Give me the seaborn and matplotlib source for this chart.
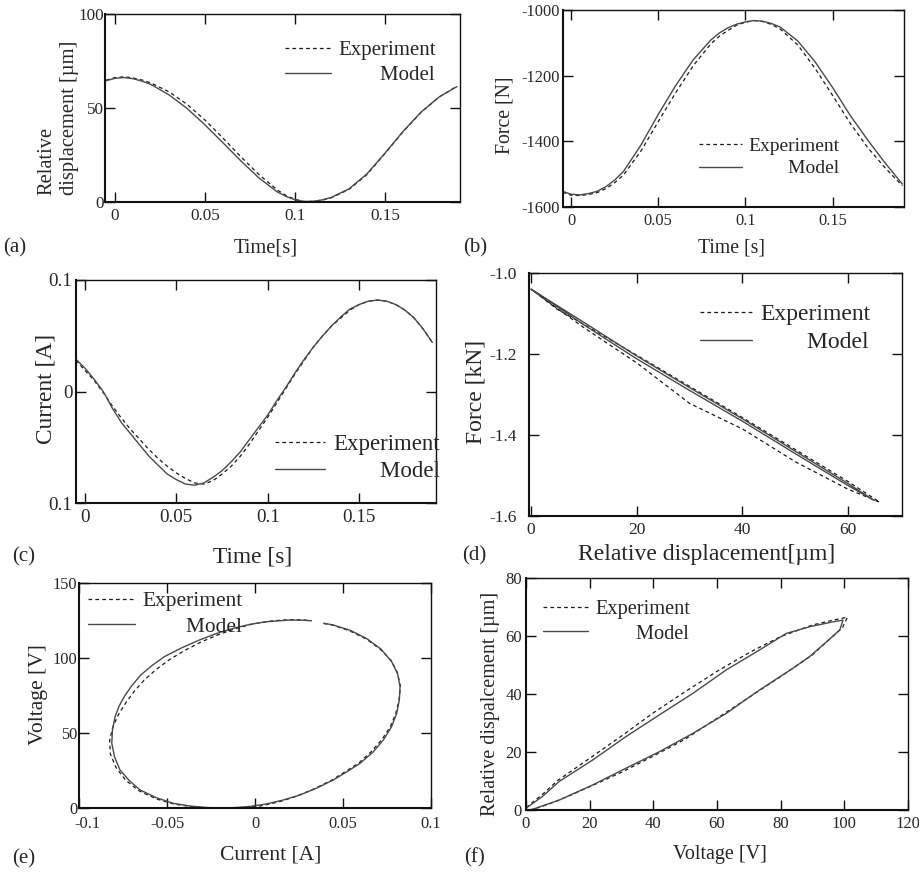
#%% Loading libraries
import seaborn as sns
import pandas as pd
import matplotlib.pyplot as plt
import matplotlib.transforms as mtrans

#%% Data
# (a) relative displacement vs time
a_time = [-0.005, 0.0, 0.005, 0.01, 0.015, 0.02, 0.03, 0.04, 0.05, 0.06, 0.07, 0.08, 0.09,
          0.095, 0.1, 0.105, 0.11, 0.115, 0.12, 0.13, 0.14, 0.15, 0.16, 0.17, 0.18, 0.19]
a_exp = [64.8, 66.2, 66.6, 66.0, 64.9, 63.3, 58.6, 52.0, 43.6, 34.0, 24.0, 14.6, 6.5,
         3.5, 1.4, 0.3, 0.3, 1.0, 2.2, 6.7, 14.6, 25.8, 37.3, 47.6, 55.8, 61.6]
a_model = [64.5, 65.8, 66.2, 65.6, 64.3, 62.5, 57.0, 49.8, 41.0, 31.5, 21.8, 12.8, 5.5,
           3.0, 1.2, 0.3, 0.4, 1.1, 2.4, 7.0, 15.0, 26.0, 37.5, 47.8, 55.8, 61.4]

# (b) force vs time
b_time = [-0.005, 0.0, 0.005, 0.01, 0.015, 0.02, 0.025, 0.03, 0.04, 0.05, 0.06, 0.07, 0.08, 0.085,
          0.09, 0.095, 0.1, 0.105, 0.11, 0.115, 0.12, 0.13, 0.14, 0.15, 0.16, 0.17, 0.18, 0.19]
b_exp = [-1555, -1564, -1565, -1562, -1556, -1544, -1526, -1503, -1430, -1340, -1252, -1170, -1104, -1080,
         -1062, -1046, -1037, -1032, -1035, -1044, -1058, -1106, -1178, -1260, -1344, -1418, -1480, -1535]
b_model = [-1552, -1561, -1563, -1559, -1552, -1538, -1518, -1492, -1412, -1318, -1230, -1152, -1092, -1070,
           -1054, -1043, -1036, -1032, -1034, -1041, -1052, -1094, -1158, -1236, -1320, -1395, -1465, -1530]

# (c) current vs time
c_time = [-0.005, 0.0, 0.005, 0.01, 0.015, 0.02, 0.025, 0.03, 0.035, 0.04, 0.045, 0.05, 0.055,
          0.06, 0.065, 0.07, 0.075, 0.08, 0.085, 0.09, 0.095, 0.1, 0.105, 0.11, 0.115, 0.12,
          0.125, 0.13, 0.135, 0.14, 0.145, 0.15, 0.155, 0.16, 0.165, 0.17, 0.175, 0.18, 0.185, 0.19]
c_exp = [0.028, 0.019, 0.010, -0.001, -0.013, -0.024, -0.034, -0.043, -0.052, -0.060, -0.067, -0.073, -0.078,
         -0.082, -0.083, -0.080, -0.074, -0.067, -0.058, -0.047, -0.035, -0.023, -0.010, 0.003, 0.016, 0.028,
         0.040, 0.050, 0.059, 0.066, 0.073, 0.078, 0.081, 0.082, 0.081, 0.078, 0.073, 0.066, 0.056, 0.044]
c_model = [0.029, 0.021, 0.011, 0.000, -0.015, -0.028, -0.038, -0.048, -0.058, -0.066, -0.074, -0.079, -0.083,
           -0.084, -0.082, -0.077, -0.071, -0.063, -0.054, -0.043, -0.032, -0.021, -0.008, 0.004, 0.017, 0.029,
           0.040, 0.050, 0.059, 0.067, 0.074, 0.078, 0.081, 0.082, 0.081, 0.078, 0.073, 0.066, 0.056, 0.044]

# (d) force vs relative displacement (loop: out and back)
d_exp_disp = [0, 5, 10, 20, 30, 40, 50, 60, 66, 60, 50, 40, 30, 20, 10, 5, 0]
d_exp_force = [-1.040, -1.088, -1.135, -1.222, -1.322, -1.385, -1.466, -1.534, -1.566,
               -1.515, -1.436, -1.357, -1.280, -1.203, -1.127, -1.090, -1.040]
d_model_disp = [0, 10, 20, 30, 40, 50, 60, 65, 60, 50, 40, 30, 20, 10, 0]
d_model_force = [-1.040, -1.122, -1.205, -1.283, -1.360, -1.440, -1.520, -1.562,
                 -1.525, -1.446, -1.366, -1.290, -1.212, -1.128, -1.040]

# (e) voltage vs current
e_exp_cur = [0.039, 0.0445, 0.054, 0.0634, 0.0715, 0.0776, 0.081, 0.0826, 0.0818, 0.08, 0.0768, 0.072,
             0.066, 0.059, 0.051, 0.0435, 0.034, 0.024, 0.014, 0.004, -0.006, -0.016, -0.026, -0.036,
             -0.046, -0.056, -0.066, -0.0735, -0.079, -0.0822, -0.0826, -0.0808, -0.0775, -0.0735,
             -0.0685, -0.0628, -0.056, -0.0485, -0.04, -0.031, -0.021, -0.011, -0.001, 0.01, 0.0199,
             0.027, 0.032]
e_exp_volt = [123.0, 121.8, 118.0, 112.5, 105.5, 98, 90, 81, 72, 63, 54, 45.5,
              37.5, 30, 24, 18.5, 13, 8, 4.2, 1.5, 0.2, 0.0, 0.0, 0.9,
              2.6, 6.0, 11.5, 18.5, 27, 36, 45, 54, 62.5, 70,
              78, 85.5, 92.5, 99, 105, 110.5, 115.5, 119.6, 122.8, 124.8, 125.6,
              125.4, 125.0]
e_model_cur = [0.039, 0.0445, 0.054, 0.0634, 0.0715, 0.0776, 0.081, 0.0824, 0.082, 0.0805, 0.0775, 0.0729,
               0.067, 0.0597, 0.052, 0.0445, 0.035, 0.0256, 0.016, 0.0066, -0.003, -0.0123, -0.02, -0.0275,
               -0.037, -0.0464, -0.056, -0.0653, -0.0715, -0.0767, -0.0798, -0.0814, -0.081, -0.0795,
               -0.0772, -0.0742, -0.0700, -0.0648, -0.0585, -0.0515, -0.042, -0.032, -0.022, -0.0123,
               -0.003, 0.0066, 0.0199, 0.027, 0.032]
e_model_volt = [123.2, 122.0, 118.5, 113, 106, 97.6, 89.5, 80.9, 72, 63.1, 54, 45.3,
                37.2, 29.8, 24, 18.7, 13.2, 8.7, 5.3, 2.7, 1.0, 0.2, 0.0, 0.3,
                1.3, 3.1, 6.8, 12, 18.3, 25.3, 34, 43.1, 52, 60.9,
                68, 74.5, 81.6, 88.8, 95.0, 100.9, 106.6, 111.8, 116.3, 119.8,
                122.4, 124.2, 125.3, 125.2, 124.8]

# (f) relative displacement vs voltage (hysteresis loop)
f_exp_volt = [0, 5, 10, 20, 30, 40, 50, 60, 70, 80, 90, 97, 101,
              99.5, 95, 90, 80, 70, 60, 50, 40, 30, 20, 10, 5, 2]
f_exp_disp = [0.8, 5.2, 10.2, 17.8, 25.5, 33.5, 40.8, 47.8, 54.2, 59.8, 63.8, 65.6, 66.5,
              63.0, 58.5, 53.5, 46.0, 38.8, 31.6, 24.4, 18.6, 13.0, 8.0, 3.2, 1.2, 0.2]
f_model_volt = [0, 5.1, 10.4, 20.9, 31.4, 41.9, 52.4, 62.9, 73.4, 81.8, 89.1, 96.5, 99.6,
                98.6, 94.4, 89.1, 83.9, 73.4, 62.9, 52.4, 41.9, 31.4, 20.9, 10.4, 5.1, 2.0, 0]
f_model_disp = [0.6, 4.6, 9.8, 17.2, 25.3, 32.8, 40.2, 48.3, 55.2, 60.9, 63.2, 64.9, 65.5,
                62.1, 58.0, 52.9, 48.9, 41.4, 33.3, 26.4, 20.1, 14.4, 8.6, 3.4, 1.4, 0.2, 0.0]

#%% Theming and fonts
sns.set_style("ticks")
plt.rcParams['font.family'] = ['Liberation Serif', 'DejaVu Serif']
plt.rcParams['axes.unicode_minus'] = False

exp_style = dict(color='#1a1a1a', lw=0.9, linestyle=(0, (3, 2.5)))
mod_style = dict(color='#4a4a4a', lw=1.0, linestyle='-')

fig = plt.figure(figsize=(9.2, 8.75), dpi=100)

# axes boxes in figure fraction [left, bottom, width, height]
boxes = {'a': [0.1141, 0.7691, 0.3859, 0.2149],
         'b': [0.6120, 0.7634, 0.3707, 0.2251],
         'c': [0.0826, 0.4251, 0.3913, 0.2549],
         'd': [0.5750, 0.4103, 0.4054, 0.2777],
         'e': [0.0859, 0.0766, 0.3826, 0.2571],
         'f': [0.5717, 0.0743, 0.4152, 0.2651]}


def panel(key, x_exp, y_exp, x_mod, y_mod):
    ax = fig.add_axes(boxes[key])
    sns.lineplot(x=x_exp, y=y_exp, ax=ax, sort=False, estimator=None,
                 legend=False, **exp_style)
    sns.lineplot(x=x_mod, y=y_mod, ax=ax, sort=False, estimator=None,
                 legend=False, **mod_style)
    for side in ['left', 'bottom']:
        ax.spines[side].set_linewidth(1.5)
    for side in ['top', 'right']:
        ax.spines[side].set_linewidth(1.0)
    for sp in ax.spines.values():
        sp.set_color('#111111')
    ax.tick_params(direction='in', top=True, right=True, length=7, width=1,
                   color='#111111')
    return ax


def finish(ax, fs_tick, xpad, ypad, xlabel, xl_pos, ylabel, yl_pos, fs_lab,
           leg_pos, fs_leg, pad_spaces):
    ax.tick_params(axis='x', labelsize=fs_tick, pad=xpad)
    ax.tick_params(axis='y', labelsize=fs_tick, pad=ypad)
    ax.set_xlabel(xlabel, fontsize=fs_lab, va='center')
    ax.xaxis.set_label_coords(*xl_pos)
    ax.set_ylabel(ylabel, fontsize=fs_lab, va='center', ha='center',
                  multialignment='left')
    ax.yaxis.set_label_coords(*yl_pos)
    ax.legend(handles=ax.lines[:2],
              labels=['Experiment', ' ' * pad_spaces + 'Model'],
              loc='upper left', bbox_to_anchor=leg_pos, frameon=False,
              fontsize=fs_leg, handlelength=2.2, handletextpad=0.35,
              labelspacing=0.25, borderpad=0, borderaxespad=0)


#%% (a)
ax = panel('a', a_time, a_exp, a_time, a_model)
ax.set_xlim(-0.0056, 0.1917)
ax.set_ylim(0, 100)
ax.set_xticks([0, 0.05, 0.1, 0.15], ['0', '0.05', '0.1', '0.15'])
ax.set_yticks([0, 50, 100], ['0', '50', '100'])
finish(ax, 12.3, 4, 0.5, 'Time[s]', (0.454, -0.245),
       'Relative\ndisplacement [\u00b5m]', (-0.132, 0.447), 14.8,
       (0.507, 0.859), 15, 8)

#%% (b)
ax = panel('b', b_time, b_exp, b_time, b_model)
ax.set_xlim(-0.0046, 0.191)
ax.set_ylim(-1600, -1000)
ax.set_xticks([0, 0.05, 0.1, 0.15], ['0', '0.05', '0.1', '0.15'])
ax.set_yticks([-1600, -1400, -1200, -1000])
finish(ax, 11.8, 4, 2.5, 'Time [s]', (0.493, -0.208),
       'Force [N]', (-0.170, 0.467), 14.2,
       (0.399, 0.354), 14, 8)

#%% (c)
ax = panel('c', c_time, c_exp, c_time, c_model)
ax.set_xlim(-0.0049, 0.192)
ax.set_ylim(-0.1, 0.1)
ax.set_xticks([0, 0.05, 0.1, 0.15], ['0', '0.05', '0.1', '0.15'])
ax.set_yticks([-0.1, 0, 0.1], ['0.1', '0', '0.1'])
finish(ax, 13.7, 4.5, 2.5, 'Time [s]', (0.492, -0.242),
       'Current [A]', (-0.083, 0.511), 16.8,
       (0.553, 0.308), 16.5, 8)

#%% (d)
ax = panel('d', d_exp_disp, d_exp_force, d_model_disp, d_model_force)
ax.set_xlim(-0.4, 70.2)
ax.set_ylim(-1.6, -1.0)
ax.set_xticks([0, 20, 40, 60])
ax.set_yticks([-1.6, -1.4, -1.2, -1.0], ['-1.6', '-1.4', '-1.2', '-1.0'])
finish(ax, 12.5, 4.5, 9, 'Relative displacement[\u00b5m]', (0.475, -0.160),
       'Force [kN]', (-0.142, 0.510), 17,
       (0.458, 0.873), 17, 8)

#%% (e)
ax = panel('e', e_exp_cur, e_exp_volt, e_model_cur, e_model_volt)
ax.set_xlim(-0.1, 0.1)
ax.set_ylim(0, 150)
ax.set_xticks([-0.1, -0.05, 0, 0.05, 0.1], ['-0.1', '-0.05', '0', '0.05', '0.1'])
ax.set_yticks([0, 50, 100, 150])
finish(ax, 11.8, 5.5, 1, 'Current [A]', (0.545, -0.209),
       'Voltage [V]', (-0.114, 0.502), 15.6,
       (0.026, 0.963), 15.4, 8)
# the first current label sits a little right of its tick, clear of the "0"
first_lab = ax.get_xticklabels()[0]
first_lab.set_transform(first_lab.get_transform()
                        + mtrans.ScaledTranslation(6 / 72, 0, fig.dpi_scale_trans))

#%% (f)
ax = panel('f', f_exp_volt, f_exp_disp, f_model_volt, f_model_disp)
ax.set_xlim(0, 120)
ax.set_ylim(0, 80)
ax.set_xticks([0, 20, 40, 60, 80, 100, 120])
ax.set_yticks([0, 20, 40, 60, 80])
finish(ax, 12, 4.5, 3, 'Voltage [V]', (0.508, -0.194),
       'Relative dispalcement [\u00b5m]', (-0.094, 0.457), 14.5,
       (0.045, 0.906), 14.7, 8)

#%% Panel letters
letters = ['(a)', '(b)', '(c)', '(d)', '(e)', '(f)']
letter_pos = [(0.003, 0.7166), (0.503, 0.7166), (0.013, 0.3634),
              (0.502, 0.3646), (0.013, 0.0183), (0.505, 0.0194)]
for txt, (lx, ly) in zip(letters, letter_pos):
    fig.text(lx, ly, txt, fontsize=15, va='center', ha='left')

plt.savefig('out.png', dpi=100)
